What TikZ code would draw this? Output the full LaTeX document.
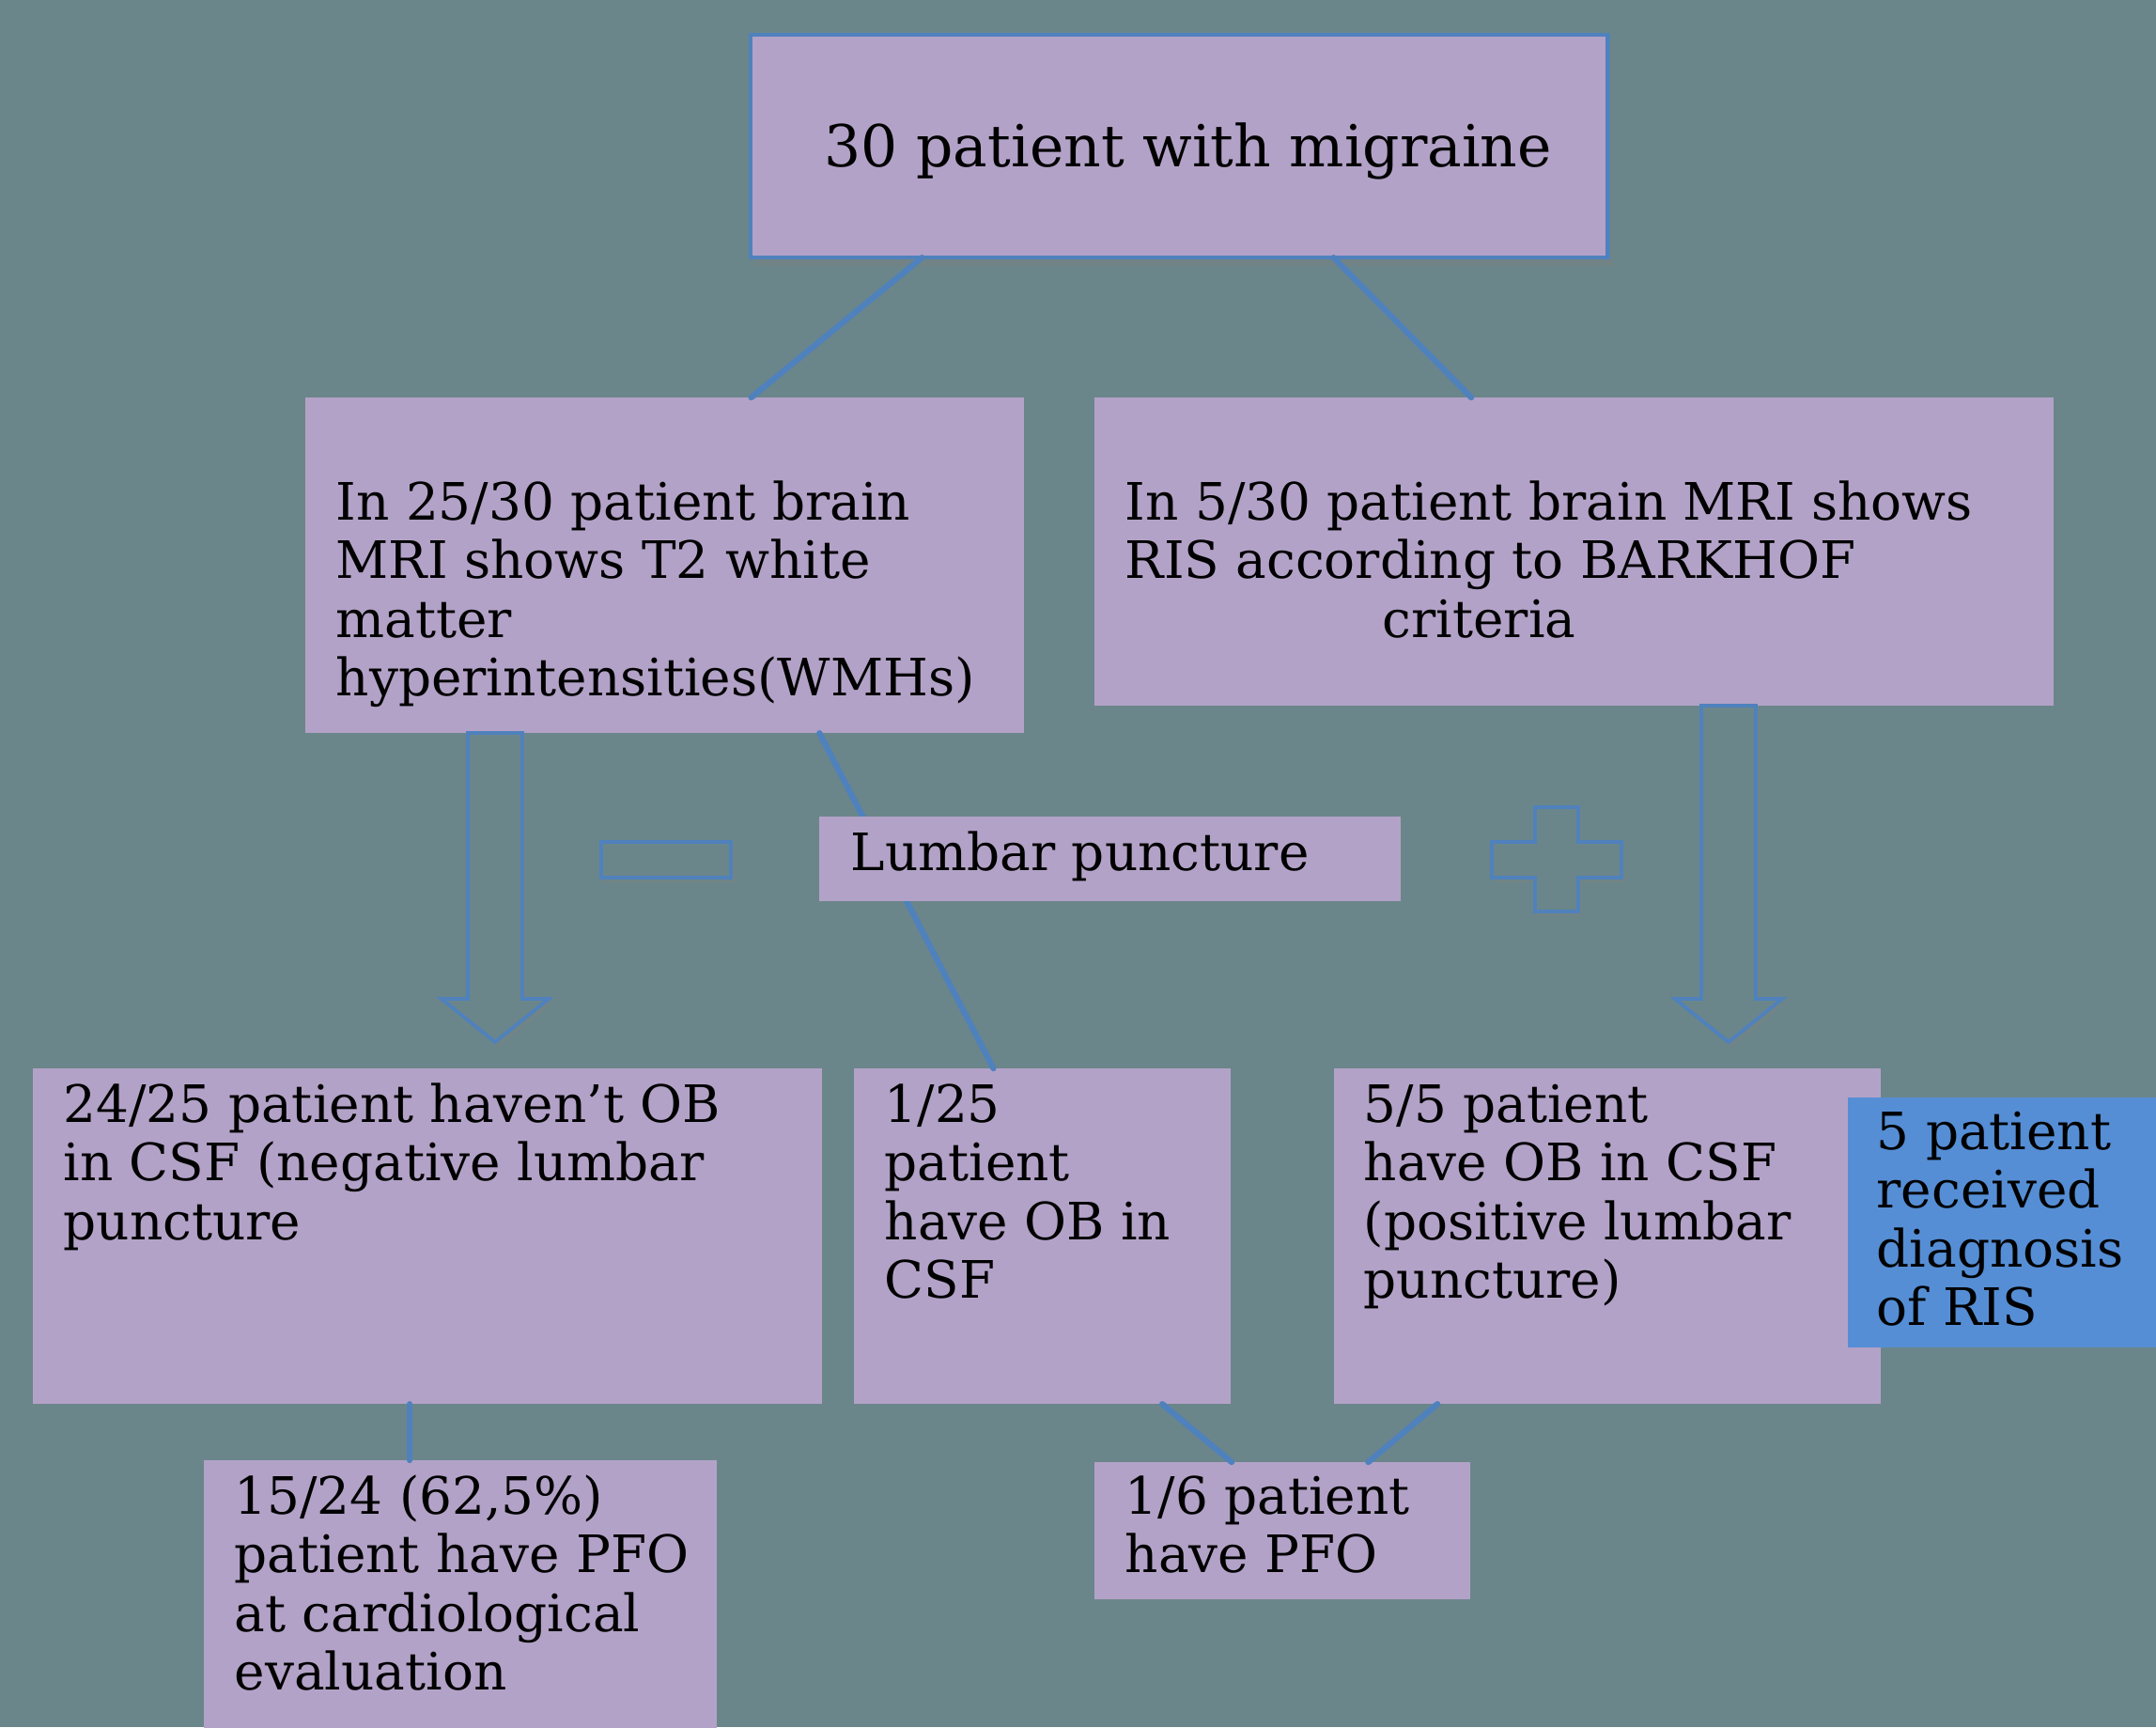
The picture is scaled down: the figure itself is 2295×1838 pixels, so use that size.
\documentclass[tikz,border=0pt]{standalone}
\usepackage{fontspec}
\setmainfont{DejaVu Serif}
\usetikzlibrary{calc,shadows}
\definecolor{bgteal}{RGB}{107,134,138}
\definecolor{lavender}{RGB}{179,162,199}
\definecolor{lineblue}{RGB}{79,129,189}
\definecolor{risblue}{RGB}{85,142,213}
% lines of a box, first baseline at the node's base
\newcommand{\lines}[1]{\begin{tabular}[t]{@{}l@{}}#1\end{tabular}}
% hollow block arrow pointing down: centre x, top y, shaft length
\newcommand{\fatarrow}[3]{%
  \draw[hollow] ({#1-29},#2) -- ++(0,#3) -- ++(-28,0) -- ({#1},{#2+#3+46})
    -- ({#1+57},{#2+#3}) -- ++(-28,0) -- ({#1+29},#2) -- cycle;}

\begin{document}
\begin{tikzpicture}[x=0.01cm,y=-0.01cm,
    box/.style={fill=lavender, inner sep=0pt, outer sep=0pt, anchor=north west},
    txt/.style={anchor=base west, inner sep=0pt, font=\fontsize{15.6}{17.8}\selectfont},
    link/.style={draw=lineblue, line width=1.8pt, line cap=round},
    hollow/.style={draw=lineblue, fill=bgteal, line width=1.1pt,
      drop shadow={shadow xshift=1pt, shadow yshift=-1.5pt, opacity=0.3}}]
  \useasboundingbox (0,0) rectangle (2295,1838);
  \fill[bgteal] (0,0) rectangle (2295,1838);

  % boxes
  \node[box, draw=lineblue, line width=1.3pt, minimum width=9.12cm, minimum height=2.37cm,
    drop shadow={shadow xshift=1.5pt, shadow yshift=-2.5pt, opacity=0.35}] (mig) at (799,37) {};
  \node[box, minimum width=7.65cm, minimum height=3.57cm] (mri) at (325,423) {};
  \node[box, minimum width=10.20cm, minimum height=3.28cm] (ris) at (1165,423) {};
  \node[box, minimum width=8.39cm, minimum height=3.57cm] (neg) at (35,1137) {};
  \node[box, minimum width=4.01cm, minimum height=3.57cm] (ob1) at (909,1137) {};
  \node[box, minimum width=5.82cm, minimum height=3.57cm] (pos) at (1420,1137) {};
  \node[box, minimum width=5.46cm, minimum height=3.2cm] (pfo) at (217,1554) {};
  \node[box, minimum width=4.00cm, minimum height=1.46cm] (pfo1) at (1165,1556) {};
  \node[box, fill=risblue, minimum width=3.40cm, minimum height=2.66cm] (risdx) at (1967,1168) {};

  % connectors
  \draw[link] ($(mig.south west)!0.2!(mig.south east)$) -- ($(mri.north west)!0.62!(mri.north east)$);
  \draw[link] ($(mig.south west)!0.68!(mig.south east)$) -- ($(ris.north west)!0.393!(ris.north east)$);
  \draw[link] ($(mri.south west)!0.715!(mri.south east)$) -- ($(ob1.north west)!0.37!(ob1.north east)$);
  \coordinate (cd) at ($(neg.south west)!0.478!(neg.south east)$);
  \draw[link] (cd) -- (cd |- pfo.north);
  \draw[link] ($(ob1.south west)!0.818!(ob1.south east)$) -- ($(pfo1.north west)!0.365!(pfo1.north east)$);
  \draw[link] ($(pos.south west)!0.189!(pos.south east)$) -- ($(pfo1.north west)!0.728!(pfo1.north east)$);

  \node[box, minimum width=6.19cm, minimum height=0.90cm] (lumbar) at (872,869) {};

  % arrows, minus and plus
  \fatarrow{527}{780}{283}
  \fatarrow{1840}{751}{312}
  \draw[hollow] (640,896) rectangle (778,934);
  \draw[hollow] (1634,859) -- (1680,859) -- (1680,896) -- (1726,896) -- (1726,934)
    -- (1680,934) -- (1680,970) -- (1634,970) -- (1634,934) -- (1588,934)
    -- (1588,896) -- (1634,896) -- cycle;

  % texts
  \node[txt, font=\fontsize{17.5}{20}\selectfont] (migT) at (877,177) {30 patient with migraine};
  \node[txt] (mriT) at (357,553) {\lines{In 25/30 patient brain\\ MRI shows T2 white\\ matter\\ hyperintensities(WMHs)}};
  \node[txt] (risT) at (1197,553) {\lines{In 5/30 patient brain MRI shows\\ RIS according to BARKHOF\\ \hspace*{2.74cm}criteria}};
  \node[txt] (lumbarT) at (905,926) {Lumbar puncture};
  \node[txt] (negT) at (67,1194) {\lines{24/25 patient haven’t OB\\ in CSF (negative lumbar\\ puncture}};
  \node[txt] (ob1T) at (941,1194) {\lines{1/25\\ patient\\ have OB in\\ CSF}};
  \node[txt] (posT) at (1451,1194) {\lines{5/5 patient\\ have OB in CSF\\ (positive lumbar\\ puncture)}};
  \node[txt] (pfoT) at (249,1611) {\lines{15/24 (62,5\%)\\ patient have PFO\\ at cardiological\\ evaluation}};
  \node[txt] (pfo1T) at (1197,1611) {\lines{1/6 patient\\ have PFO}};
  \node[txt] (risdxT) at (1997,1223) {\lines{5 patient\\ received\\ diagnosis\\ of RIS}};
\end{tikzpicture}
\end{document}
